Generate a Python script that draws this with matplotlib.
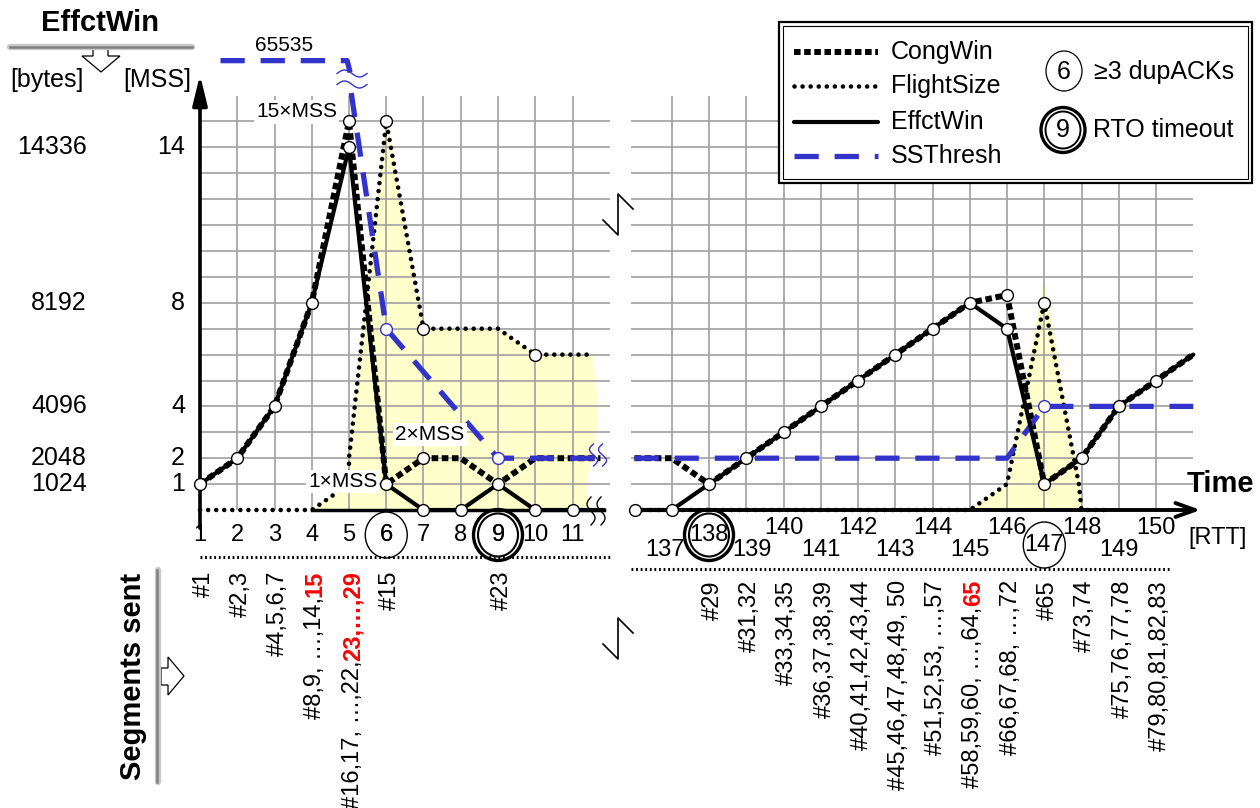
import numpy as np
import matplotlib
matplotlib.use("Agg")
import matplotlib.pyplot as plt
from matplotlib.patches import Ellipse, Polygon, Rectangle
from matplotlib.lines import Line2D

plt.rcParams['font.family'] = ['Liberation Sans', 'DejaVu Sans']

##### data (window sizes in MSS, time in RTT) #####

# first part, RTT 1 .. 11
eff_x1 = [1, 2, 3, 4, 5, 6, 7, 8, 9, 10, 11, 11.85]
eff_y1 = [1, 2, 4, 8, 14, 1, 0, 0, 1, 0, 0, 0]
cong_x1 = [1, 2, 3, 4, 5, 6, 7, 8, 9, 10, 11, 11.75]
cong_y1 = [1, 2, 4, 8, 15, 1, 2, 2, 1, 2, 2, 2]
flight_x1 = [1, 2, 3, 4, 5, 5, 6, 7, 8, 9, 10, 11, 11.55]
flight_y1 = [0, 0, 0, 0, 1, 2, 15, 7, 7, 7, 6, 6, 6]
# SSThresh starts at 65535 bytes (off the scale), then a break
ssth_top_x1 = [1.55, 4.95, 5.03]
ssth_top_y1 = [17.35, 17.35, 16.9]
ssth_x1 = [5.06, 6, 9, 11.75]
ssth_y1 = [16.1, 7, 2, 2]
# rounded right edge of the yellow area
fill_edge_x1 = [11.63, 11.69, 11.65, 11.49, 11.4, 11.42]
fill_edge_y1 = [5, 4, 3, 1.8, 1.2, 0]

# second part, RTT 136 .. 151
eff_x2 = list(range(136, 152))
eff_y2 = [0, 0, 1, 2, 3, 4, 5, 6, 7, 8, 7, 1, 2, 4, 5, 6]
cong_x2 = list(range(136, 152))
cong_y2 = [2, 2, 1, 2, 3, 4, 5, 6, 7, 8, 8.3, 1, 2, 4, 5, 6]
flight_x2 = [136, 145, 146, 147, 147.93, 148, 148.7]
flight_y2 = [0, 0, 1, 8, 1, 0, 0]
fill_x2 = [145, 146, 147, 147.95, 148]
fill_y2 = [0, 1, 9, 1, 0]
ssth_x2 = [136, 146, 147, 151]
ssth_y2 = [2, 2, 4, 4]

# which points get an open circle
eff_mark1 = list(range(11))
cong_mark1 = [4, 6]
flight_mark1 = [6, 7, 10]
ssth_mark1 = [1, 2]
eff_mark2 = list(range(15))
cong_mark2 = [10]
flight_mark2 = [3]
ssth_mark2 = [2]

ytick_mss = [14, 8, 4, 2, 1]
ytick_bytes = ['14336', '8192', '4096', '2048', '1024']
xtick1 = [1, 2, 3, 4, 5, 6, 7, 8, 9, 10, 11]
xtick2_even = [140, 142, 144, 146, 148, 150]
xtick2_odd = [137, 139, 141, 143, 145, 149]
dupack_rtt = [6, 147]
rto_rtt = [9, 138]

seg_x1 = [1, 2, 3, 4, 5, 6, 9]
seg_black1 = ['#1', '#2,3', '#4,5,6,7', '#8,9, …,14,', '#16,17, …,22,', '#15', '#23']
seg_red1 = ['', '', '', '15', '23,…,29', '', '']
seg_x2 = [138, 139, 140, 141, 142, 143, 144, 145, 146, 147, 148, 149, 150]
seg_black2 = ['#29', '#31,32', '#33,34,35', '#36,37,38,39', '#40,41,42,43,44',
              '#45,46,47,48,49, 50', '#51,52,53, …,57', '#58,59,60, …,64,',
              '#66,67,68, …,72', '#65', '#73,74', '#75,76,77,78', '#79,80,81,82,83']
seg_red2 = ['', '', '', '', '', '', '', '65', '', '', '', '', '']

##### geometry #####
W, H = 1260, 808
PX_RTT = 37.25      # pixels per RTT
PX_MSS = 25.9       # pixels per MSS
Y0 = 510            # pixel row of 0 MSS
YLIM = (-1.5, 18.5)


def ypx(p):
    return (Y0 - p) / PX_MSS


def fx(p):
    return p / W


def fy(p):
    return 1 - p / H


fig = plt.figure(figsize=(12.6, 8.08), dpi=100)


def make_axes(x_first, px_first, xlim):
    left = px_first + (xlim[0] - x_first) * PX_RTT
    right = px_first + (xlim[1] - x_first) * PX_RTT
    top = Y0 - YLIM[1] * PX_MSS
    bottom = Y0 - YLIM[0] * PX_MSS
    ax = fig.add_axes([left / W, 1 - bottom / H, (right - left) / W, (bottom - top) / H])
    ax.set_xlim(*xlim)
    ax.set_ylim(*YLIM)
    ax.axis('off')
    return ax


ax1 = make_axes(1, 200, (0.2, 12.6))
ax2 = make_axes(136, 634.5, (135.4, 152.5))

GRID = dict(color='#a0a0a0', lw=1.2, zorder=1)
CONG = dict(color='black', lw=4.3, dashes=(1.1, 0.6), zorder=4)
FLIGHT = dict(color='black', lw=3.3, dashes=(0.01, 1.75), dash_capstyle='round', zorder=3)
EFF = dict(color='black', lw=3.0, solid_capstyle='round', zorder=5)
SSTH = dict(color='#3333cc', lw=3.8, dashes=(4.6, 3.0), zorder=4)
BLUE = '#3333cc'
YELLOW = '#ffffcc'


def circles(ax, xs, ys, idx, ec='black'):
    ax.plot([xs[i] for i in idx], [ys[i] for i in idx], 'o', ms=8.5, mfc='white',
            mec=ec, mew=1.0, zorder=8, clip_on=False)


##### first part #####
ax1.vlines(range(2, 12), 0, 16, **GRID)
ax1.hlines(range(1, 16), 1, 12, **GRID)

poly = list(zip(flight_x1[3:], flight_y1[3:])) + list(zip(fill_edge_x1, fill_edge_y1))
ax1.add_patch(Polygon(poly, closed=True, fc=YELLOW, ec='none', zorder=0))

ax1.plot([4, 11.85], [0, 0], color='black', lw=2.5, zorder=2)
ax1.plot(flight_x1, flight_y1, **FLIGHT)
ax1.plot(cong_x1, cong_y1, **CONG)
ax1.plot(eff_x1, eff_y1, **EFF)
ax1.plot(ssth_top_x1, ssth_top_y1, solid_joinstyle='round', clip_on=False, **SSTH)
ax1.plot(ssth_x1, ssth_y1, **SSTH)

circles(ax1, eff_x1, eff_y1, eff_mark1)
circles(ax1, cong_x1, cong_y1, cong_mark1)
circles(ax1, flight_x1, flight_y1, flight_mark1)
circles(ax1, ssth_x1, ssth_y1, ssth_mark1, ec=BLUE)

ax1.annotate('', xy=(1, 16.8), xytext=(1, -0.7),
             arrowprops=dict(arrowstyle='-|>,head_length=0.9,head_width=0.22',
                             lw=2.6, color='black', mutation_scale=20, shrinkA=0, shrinkB=0))

ax1.text(4.68, 15.37, '15×MSS', fontsize=15, ha='right', va='center', zorder=7,
         bbox=dict(fc='white', ec='none', pad=1.5))
ax1.text(7.17, 2.9, '2×MSS', fontsize=15, ha='center', va='center', zorder=7,
         bbox=dict(fc='white', ec='none', pad=1.5))
ax1.text(4.83, 1.09, '1×MSS', fontsize=15, ha='center', va='center', zorder=7,
         bbox=dict(fc='white', ec='none', pad=1.5))
ax1.text(3.26, 17.95, '65535', fontsize=15, ha='center', va='center')

for v, b in zip(ytick_mss, ytick_bytes):
    fig.text(fx(185), fy(Y0 - v * PX_MSS), str(v), fontsize=18, ha='right', va='center')
    fig.text(fx(87), fy(Y0 - v * PX_MSS), b, fontsize=18, ha='right', va='center')

for t in xtick1:
    ax1.text(t, ypx(535), str(t), fontsize=17, ha='center', va='center')
ax1.hlines(ypx(557), 1, 12.05, color='black', lw=2.2, linestyles=(0, (0.6, 0.9)), clip_on=False)

##### second part #####
ax2.vlines(range(137, 151), 0, 16, **GRID)
ax2.hlines(range(1, 16), 135.9, 151, **GRID)

ax2.add_patch(Polygon(list(zip(fill_x2, fill_y2)), closed=True, fc=YELLOW, ec='none', zorder=0))

ax2.annotate('', xy=(151.2, 0), xytext=(135.9, 0),
             arrowprops=dict(arrowstyle='->,head_length=0.7,head_width=0.25',
                             lw=2.8, color='black', mutation_scale=20, shrinkA=0, shrinkB=0))
ax2.plot(flight_x2, flight_y2, **FLIGHT)
ax2.plot(cong_x2, cong_y2, **CONG)
ax2.plot(eff_x2, eff_y2, **EFF)
ax2.plot(ssth_x2, ssth_y2, **SSTH)

circles(ax2, eff_x2, eff_y2, eff_mark2)
circles(ax2, cong_x2, cong_y2, cong_mark2)
circles(ax2, flight_x2, flight_y2, flight_mark2)
circles(ax2, ssth_x2, ssth_y2, ssth_mark2, ec=BLUE)

for t in xtick2_even:
    ax2.text(t, ypx(528), str(t), fontsize=17, ha='center', va='center')
for t in xtick2_odd:
    shift = {137: -0.18, 139: 0.16}.get(t, 0)
    ax2.text(t + shift, ypx(550), str(t), fontsize=17, ha='center', va='center')
ax2.text(138, ypx(535), '138', fontsize=17, ha='center', va='center')
ax2.text(147, ypx(545), '147', fontsize=17, ha='center', va='center')
ax2.hlines(ypx(569), 135.9, 150.4, color='black', lw=2.2, linestyles=(0, (0.6, 0.9)), clip_on=False)

# event circles on the time axis
for ax, t, cy in [(ax1, dupack_rtt[0], 535), (ax2, dupack_rtt[1], 545)]:
    ax.add_patch(Ellipse((t, ypx(cy)), 42 / PX_RTT, 46 / PX_MSS, fc='none', ec='black',
                         lw=1.0, clip_on=False, zorder=6))
for ax, t in [(ax1, rto_rtt[0]), (ax2, rto_rtt[1])]:
    ax.add_patch(Ellipse((t, ypx(535)), 49 / PX_RTT, 51 / PX_MSS, fc='none', ec='black',
                         lw=2.4, clip_on=False, zorder=6))
    ax.add_patch(Ellipse((t, ypx(535)), 40 / PX_RTT, 43 / PX_MSS, fc='none', ec='black',
                         lw=1.5, clip_on=False, zorder=6))
ax1.text(6, ypx(535), '6', fontsize=17, ha='center', va='center')
ax1.text(9, ypx(535), '9', fontsize=17, ha='center', va='center')

##### segments sent (rotated, red part on top) #####
fig.canvas.draw()
renderer = fig.canvas.get_renderer()


def seg_labels(ax, xs, blacks, reds, top):
    for x, b, r in zip(xs, blacks, reds):
        y = ypx(top)
        if r:
            t = ax.text(x + 0.1, y, r, color='red', weight='bold', fontsize=17,
                        rotation=90, ha='center', va='top')
            bb = t.get_window_extent(renderer)
            y = ax.transData.inverted().transform((0, bb.y0))[1]
        ax.text(x + 0.1, y, b, fontsize=17, rotation=90, ha='center', va='top')


seg_labels(ax1, seg_x1, seg_black1, seg_red1, 571)
seg_labels(ax2, seg_x2, seg_black2, seg_red2, 580)

##### decorations in pixel coordinates #####
def pline(xs, ys, **kw):
    fig.add_artist(Line2D([fx(v) for v in xs], [fy(v) for v in ys], transform=fig.transFigure, **kw))


def ppoly(pts, **kw):
    fig.add_artist(Polygon([(fx(a), fy(b)) for a, b in pts], closed=True,
                           transform=fig.transFigure, **kw))


def wavy(cx, cy, length, amp, gap, vertical, color, lw):
    s = np.linspace(-0.5, 0.5, 40)
    for off in (-gap / 2, gap / 2):
        a = cx + off + amp * np.sin(2 * np.pi * s) if vertical else cx + s * length
        b = cy + s * length if vertical else cy + off + amp * np.sin(2 * np.pi * s)
        pline(a, b, color=color, lw=lw, zorder=9)


wavy(352, 79, 30, 3.5, 11, False, BLUE, 1.0)
wavy(598, 455, 22, 4, 9, True, BLUE, 1.0)
wavy(596, 511, 28, 4, 10, True, 'black', 1.0)

for yc in (215, 639):
    pline([603, 618, 618, 633], [yc + 5, yc + 20, yc - 21, yc - 6], color='black', lw=1.2)

# EffctWin heading
fig.text(fx(100), fy(23), 'EffctWin', fontsize=21, weight='bold', ha='center', va='center')
pline([10, 192], [47, 47], color='#c8c8c8', lw=4.5, solid_capstyle='round')
pline([10, 192], [47, 47], color='#808080', lw=1.8)
ppoly([(93, 48), (108, 48), (108, 56), (120, 56), (101, 72), (82, 56), (93, 56)],
      fc='white', ec='black', lw=0.9)
fig.text(fx(47), fy(80), '[bytes]', fontsize=18, ha='center', va='center')
fig.text(fx(157), fy(80), '[MSS]', fontsize=18, ha='center', va='center')

# Segments sent heading
fig.text(fx(133), fy(676), 'Segments sent', fontsize=21, weight='bold', rotation=90,
         ha='center', va='center')
pline([158, 158], [570, 782], color='#c8c8c8', lw=4.5, solid_capstyle='round')
pline([157, 157], [570, 782], color='#808080', lw=1.8)
ppoly([(161, 668), (168, 668), (168, 657), (184, 676), (168, 695), (168, 685), (161, 685)],
      fc='white', ec='black', lw=0.9)

fig.text(fx(1220), fy(484), 'Time', fontsize=21, weight='bold', ha='center', va='center')
fig.text(fx(1218), fy(538), '[RTT]', fontsize=17, ha='center', va='center')

##### legend #####
fig.add_artist(Rectangle((fx(779), fy(183)), fx(473), 161 / H, transform=fig.transFigure,
                         fc='white', ec='black', lw=1.6, zorder=10))
fig.add_artist(Rectangle((fx(783), fy(179)), fx(465), 153 / H, transform=fig.transFigure,
                         fc='none', ec='black', lw=0.8, zorder=10))
leg_rows = [('CongWin', CONG, 52), ('FlightSize', FLIGHT, 86), ('EffctWin', EFF, 122),
            ('SSThresh', SSTH, 156)]
for name, st, yy in leg_rows:
    kw = dict(st)
    kw['zorder'] = 11
    pline([794, 878], [yy, yy], **kw)
    fig.text(fx(891), fy(yy), name, fontsize=18, ha='left', va='center', zorder=11)

fig.add_artist(Ellipse((fx(1064), fy(71)), 36 / W, 40 / H, transform=fig.transFigure,
                       fc='none', ec='black', lw=0.9, zorder=11))
fig.add_artist(Ellipse((fx(1063), fy(130)), 44 / W, 45 / H, transform=fig.transFigure,
                       fc='none', ec='black', lw=2.4, zorder=11))
fig.add_artist(Ellipse((fx(1063), fy(130)), 35 / W, 37 / H, transform=fig.transFigure,
                       fc='none', ec='black', lw=1.4, zorder=11))
fig.text(fx(1064), fy(72), '6', fontsize=18, ha='center', va='center', zorder=11)
fig.text(fx(1063), fy(130), '9', fontsize=18, ha='center', va='center', zorder=11)
fig.text(fx(1094), fy(72), '≥3 dupACKs', fontsize=18, ha='left', va='center', zorder=11)
fig.text(fx(1093), fy(130), 'RTO timeout', fontsize=18, ha='left', va='center', zorder=11)

plt.savefig('out.png', dpi=100)
